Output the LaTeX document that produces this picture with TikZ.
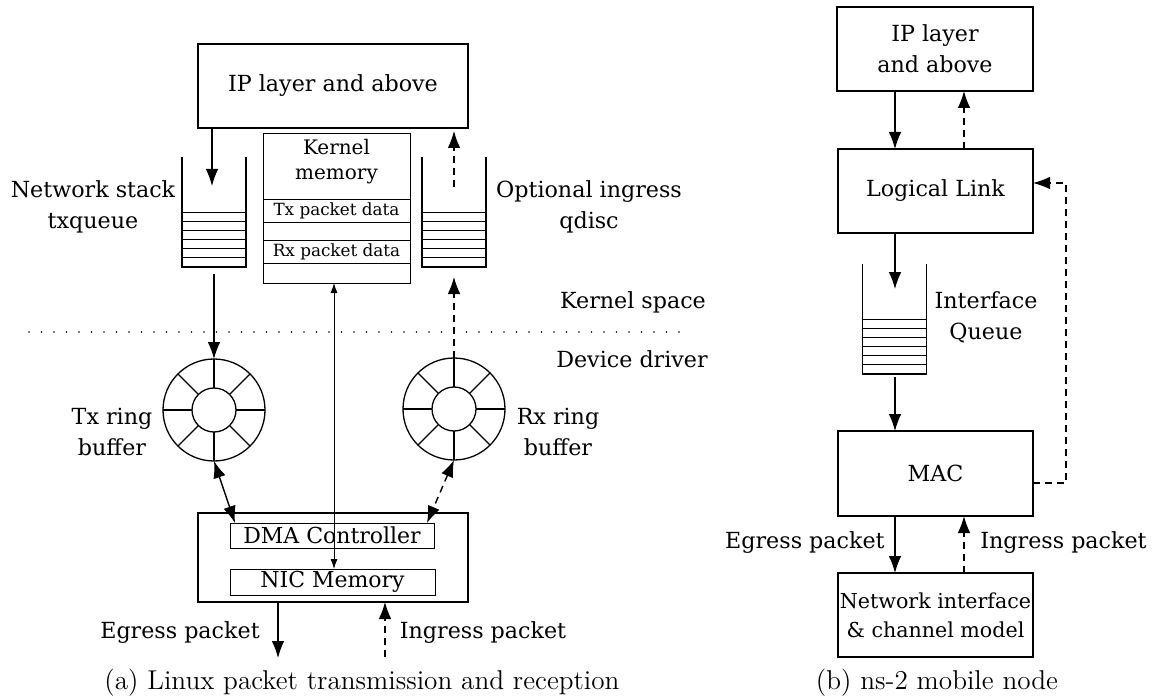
\documentclass[tikz,border=0pt]{standalone}
\usepackage{fontspec}
\setmainfont{DejaVu Serif}
\newfontfamily\capfont{Latin Modern Roman}
\usetikzlibrary{arrows.meta}

\begin{document}
\begin{tikzpicture}[x=0.5pt,y=-0.5pt,
  txt/.style={font=\fontsize{11.1}{15.5}\selectfont, align=center, inner sep=0pt},
  small/.style={font=\fontsize{8.4}{12.5}\selectfont, align=center, inner sep=0pt},
  captxt/.style={font=\capfont\fontsize{13.6}{16}\selectfont, inner sep=0pt},
  blk/.style={draw, line width=0.7pt, inner sep=0pt, outer sep=0pt, align=center,
    font=\fontsize{11.1}{15.5}\selectfont},
  thinblk/.style={blk, line width=0.5pt, font=\fontsize{11}{13}\selectfont},
  qnode/.style={minimum width=32pt, minimum height=55pt, inner sep=0pt, outer sep=0pt},
  qwall/.style={line width=0.6pt},
  qline/.style={line width=0.45pt},
  ring/.style={draw, circle, line width=0.65pt, minimum size=51pt, inner sep=0pt, outer sep=0pt},
  arr/.style={-{Latex[length=8.5pt,width=6.3pt]}, line width=0.6pt},
  darr/.style={arr, dash pattern=on 3.5pt off 2.5pt},
  dbl/.style={{Latex[length=8.5pt,width=6.3pt]}-{Latex[length=8.5pt,width=6.3pt]}, line width=0.7pt},
  ddbl/.style={dbl, dash pattern=on 3.5pt off 2.5pt},
  fine/.style={{Latex[length=5pt,width=3.5pt]}-{Latex[length=5pt,width=3.5pt]}, line width=0.45pt},
  sep/.style={line width=0.9pt, dash pattern=on 0pt off 6.25pt, line cap=round}
]
\useasboundingbox (0,0) rectangle (1155,700);

% ---------- (a) Linux packet path ----------
\node[blk, minimum width=135pt, minimum height=42pt] (ipA) at (333,86) {IP layer and above};

% kernel memory block
\node[thinblk, minimum width=73.5pt, minimum height=74.5pt] (kmem) at (336.5,208.5) {};
\foreach \yy in {199,222,240,263}
  \draw[line width=0.45pt] (kmem.west |- 0,\yy) -- (kmem.east |- 0,\yy);
\node[small, font=\fontsize{10}{12.5}\selectfont] (kmemlbl) at (336.5,162) {Kernel\\memory};
\node[small] (txdata) at (336.5,210.5) {Tx packet data};
\node[small] (rxdata) at (336.5,251.5) {Rx packet data};

% queues
\node[qnode] (txq) at (214,212) {};
\node[qnode] (rxq) at (454,212) {};
\foreach \q in {txq,rxq}{
  \draw[qwall] (\q.north west) -- (\q.south west) -- (\q.south east) -- (\q.north east);
  \foreach \k in {0,...,5}
    \draw[qline] ([yshift=-\k*4.583pt]\q.west) -- ([yshift=-\k*4.583pt]\q.east);
}
\node[txt] (txqlbl) at (93,207) {Network stack\\txqueue};
\node[txt] (rxqlbl) at (589,207) {Optional ingress\\qdisc};

% ring buffers
\node[ring] (txring) at (214,410) {};
\node[ring] (rxring) at (454,409) {};
\foreach \r in {txring,rxring}{
  \draw[line width=0.65pt] (\r.center) circle[radius=11pt];
  \foreach \a in {0,45,...,315}
    \draw[line width=0.65pt] ([shift={(\a:11pt)}]\r.center) -- (\r.\a);
}
\node[txt] (txringlbl) at (112,432) {Tx ring\\buffer};
\node[txt] (rxringlbl) at (558,432) {Rx ring\\buffer};

% kernel / driver boundary
\draw[sep] (29,332) -- (690,332);
\node[txt] (kspace) at (633,302) {Kernel space};
\node[txt] (ddriver) at (632,359) {Device driver};

% NIC
\node[blk, minimum width=135pt, minimum height=44.5pt] (nic) at (333,557.5) {};
\node[thinblk, minimum width=102pt, minimum height=12.5pt] (dma) at (332,535.5) {DMA Controller};
\node[thinblk, minimum width=102.5pt, minimum height=13pt] (nicmem) at (332.5,582) {NIC Memory};

% connectors (a)
\coordinate (txqin) at (212,186);
\coordinate (rxqout) at (454,187);
\draw[arr] (ipA.south -| txqin) -- (txqin);
\draw[darr, shorten >=1.5pt] (rxqout) -- (rxqout |- ipA.south);
\draw[arr] ([yshift=-3.5pt]txq.south) -- (txring.north);
\draw[darr] (rxring.north) -- ([yshift=-5pt]rxq.south);
\draw[fine] (kmem.south -| 334,0) -- (nicmem.north -| 334,0);
\draw[dbl] (txring.south) -- ([xshift=2.5pt]dma.north west);
\draw[ddbl] (rxring.south) -- ([xshift=-3.5pt]dma.north east);

\coordinate (egA) at (278,658);
\coordinate (inA) at (385,657);
\draw[arr] (nic.south -| egA) -- (egA);
\draw[darr] (inA) -- (inA |- nic.south);
\node[txt] (egAlbl) at (180,633) {Egress packet};
\node[txt] (inAlbl) at (483,633) {Ingress packet};

\node[captxt] (capA) at (362,683) {(a) Linux packet transmission and reception};

% ---------- (b) ns-2 mobile node ----------
\node[blk, minimum width=98pt, minimum height=42pt] (ipB) at (935,49) {IP layer\\and above};
\node[blk, minimum width=97.5pt, minimum height=42pt] (ll) at (935.5,191) {Logical Link};
\node[blk, minimum width=97.5pt, minimum height=42.5pt] (mac) at (935.5,473.5) {MAC};
\node[blk, minimum width=97.5pt, minimum height=42pt, font=\fontsize{10.3}{14.5}\selectfont] (nif) at (935.5,615) {Network interface\\\& channel model};

\node[qnode] (ifq) at (894.5,319) {};
\draw[qwall] (ifq.north west) -- (ifq.south west) -- (ifq.south east) -- (ifq.north east);
\foreach \k in {0,...,5}
  \draw[qline] ([yshift=-\k*4.583pt]ifq.west) -- ([yshift=-\k*4.583pt]ifq.east);
\node[txt] (ifqlbl) at (986,317) {Interface\\Queue};

\coordinate (dn) at (895,0);
\coordinate (up) at (964,0);
\coordinate (ifqin) at (895,289);
\coordinate (fb) at (1066,0);
\draw[arr] (ipB.south -| dn) -- (ll.north -| dn);
\draw[darr] (ll.north -| up) -- (ipB.south -| up);
\draw[arr] (ll.south -| dn) -- (ifqin);
\draw[arr] ([yshift=-1.5pt]ifq.south -| dn) -- (mac.north -| dn);
\draw[darr] ([yshift=-4.75pt]mac.east) -- ([yshift=-4.75pt]mac.east -| fb)
  -- ([yshift=4pt]ll.east -| fb) -- ([yshift=4pt]ll.east);
\draw[arr] (mac.south -| dn) -- (nif.north -| dn);
\draw[darr] (nif.north -| up) -- (mac.south -| up);
\node[txt, anchor=east] (egBlbl) at (885,543) {Egress packet};
\node[txt, anchor=west] (inBlbl) at (980,543) {Ingress packet};

\node[captxt] (capB) at (937,683) {(b) ns-2 mobile node};
\end{tikzpicture}
\end{document}
